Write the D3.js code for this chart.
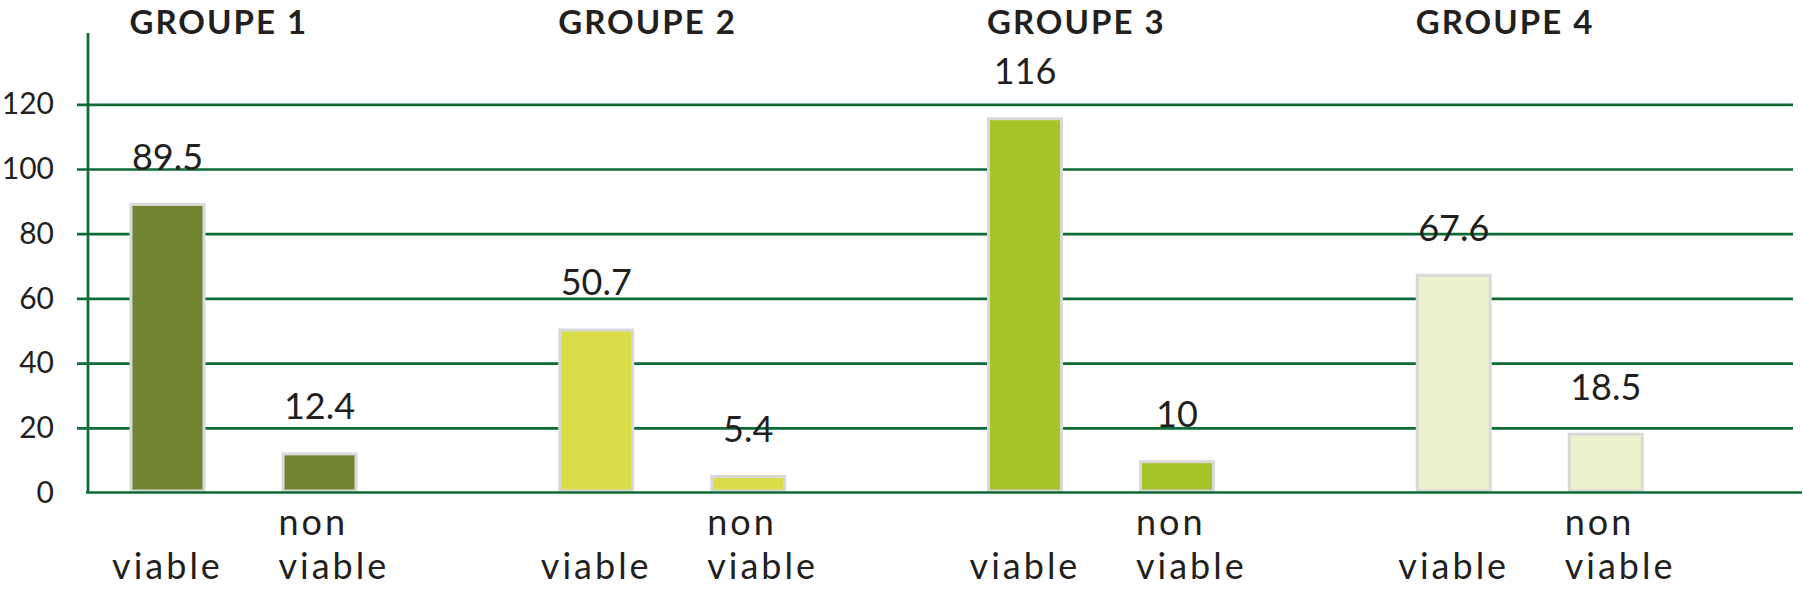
<!DOCTYPE html>
<html>
<head>
<meta charset="utf-8">
<script src="https://cdn.jsdelivr.net/npm/d3@7"></script>
<style>
  body { margin: 0; background: #fff; }
  text { font-family: Lato, "Open Sans", sans-serif; fill: #231f20; }
</style>
</head>
<body>
<div id="chart-area"></div>
<script>
// data
const groups = ["GROUPE 1", "GROUPE 2", "GROUPE 3", "GROUPE 4"]
const kinds = ["viable", "non viable"]
const viable = [89.5, 50.7, 116, 67.6]
const nonViable = [12.4, 5.4, 10, 18.5]
const groupColors = ["#718530", "#dbdd48", "#a5c427", "#edf1cc"]
const yTicks = [0, 20, 40, 60, 80, 100, 120]

const W = 1803, H = 592
const AXIS_X = 88, AXIS_TOP = 33
const GRID_LEFT = 77, GRID_RIGHT = 1793
const GREEN = "#0d6b36"

const svg = d3.select("#chart-area").append("svg")
  .attr("width", W)
  .attr("height", H)

const rows = []
groups.forEach((g, i) => {
  rows.push({ group: g, kind: kinds[0], value: viable[i], color: groupColors[i] })
  rows.push({ group: g, kind: kinds[1], value: nonViable[i], color: groupColors[i] })
})

const y = d3.scaleLinear()
  .domain([0, 120])
  .range([492.5, 104.3])

const x0 = d3.scaleBand()
  .domain(groups)
  .range([AXIS_X, W])

const x1 = d3.scaleBand()
  .domain(kinds)
  .range([41.5, 269.5])
  .paddingInner(0.5)
  .paddingOuter(0)

// gridlines + tick labels
const yAxis = d3.axisLeft(y)
  .tickValues(yTicks)
  .tickSize(-(GRID_RIGHT - GRID_LEFT))
  .tickPadding(23)
  .tickFormat(d => d)

const yAxisGroup = svg.append("g")
  .attr("class", "y axis")
  .attr("transform", `translate(${GRID_LEFT}, 0)`)
  .call(yAxis)

yAxisGroup.select(".domain").remove()
yAxisGroup.selectAll(".tick line")
  .attr("stroke", GREEN)
  .attr("stroke-width", 2.7)
  .attr("opacity", d => d === 0 ? 0 : 1)
yAxisGroup.selectAll(".tick text")
  .attr("font-size", "30px")
  .attr("fill", "#231f20")
  .style("font-family", "Lato, 'Open Sans', sans-serif")

// vertical axis
svg.append("line")
  .attr("x1", AXIS_X).attr("x2", AXIS_X)
  .attr("y1", AXIS_TOP).attr("y2", y(0))
  .attr("stroke", GREEN)
  .attr("stroke-width", 2.7)

// bars
svg.append("g").selectAll("rect")
  .data(rows)
  .enter().append("rect")
  .attr("x", d => x0(d.group) + x1(d.kind) + 1.5)
  .attr("y", d => y(d.value) + 1.5)
  .attr("width", x1.bandwidth() - 3)
  .attr("height", d => y(0) - y(d.value) - 3)
  .attr("fill", d => d.color)
  .attr("stroke", "#d9d9d9")
  .attr("stroke-width", 3)

// zero line over the bars
svg.append("line")
  .attr("x1", AXIS_X - 2).attr("x2", W - 1)
  .attr("y1", y(0)).attr("y2", y(0))
  .attr("stroke", GREEN)
  .attr("stroke-width", 2.7)

// value labels
svg.append("g").selectAll("text")
  .data(rows)
  .enter().append("text")
  .attr("x", d => x0(d.group) + x1(d.kind) + x1.bandwidth() / 2)
  .attr("y", d => y(d.value) - 33)
  .attr("text-anchor", "middle")
  .attr("font-size", "36px")
  .text(d => d.value)

// group titles
svg.append("g").selectAll("text")
  .data(groups)
  .enter().append("text")
  .attr("x", d => x0(d) + x1(kinds[0]))
  .attr("y", 34)
  .attr("font-size", "33px")
  .attr("font-weight", "bold")
  .attr("letter-spacing", "2px")
  .text(d => d)

// category labels
const catLabels = svg.append("g")
groups.forEach(g => {
  catLabels.append("text")
    .attr("x", x0(g) + x1(kinds[0]) + x1.bandwidth() / 2)
    .attr("y", 579)
    .attr("text-anchor", "middle")
    .attr("font-size", "36px")
    .attr("letter-spacing", "3px")
    .text("viable")

  const left = x0(g) + x1(kinds[1]) - 3
  const t = catLabels.append("text")
    .attr("x", left)
    .attr("font-size", "36px")
    .attr("letter-spacing", "3px")
  t.append("tspan").attr("x", left).attr("y", 535).text("non")
  t.append("tspan").attr("x", left).attr("y", 579).text("viable")
})
</script>
</body>
</html>
